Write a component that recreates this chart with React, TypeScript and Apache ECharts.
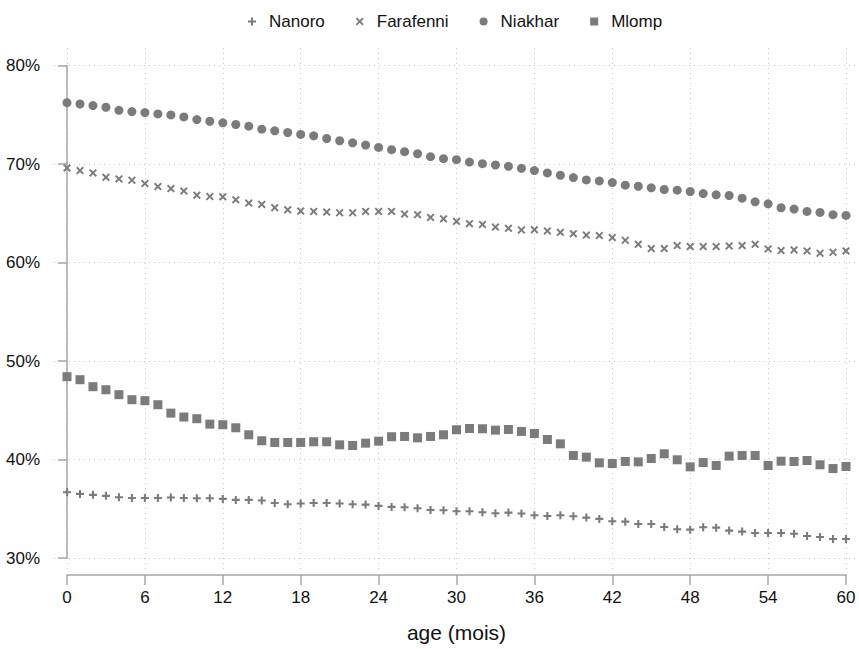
import React, { useEffect, useRef } from "react";
import * as echarts from "echarts";

const months = [0, 1, 2, 3, 4, 5, 6, 7, 8, 9, 10, 11, 12, 13, 14, 15, 16, 17, 18, 19, 20, 21, 22, 23, 24, 25, 26, 27, 28, 29, 30, 31, 32, 33, 34, 35, 36, 37, 38, 39, 40, 41, 42, 43, 44, 45, 46, 47, 48, 49, 50, 51, 52, 53, 54, 55, 56, 57, 58, 59, 60];

const nanoro = [36.68, 36.51, 36.41, 36.31, 36.17, 36.10, 36.10, 36.10, 36.14, 36.10, 36.07, 36.07, 36.00, 35.90, 35.90, 35.83, 35.59, 35.46, 35.53, 35.59, 35.59, 35.53, 35.46, 35.42, 35.29, 35.19, 35.15, 35.05, 34.88,
  34.85, 34.75, 34.75, 34.64, 34.54, 34.61, 34.51, 34.34, 34.27, 34.34, 34.24, 34.10, 33.97, 33.73, 33.69, 33.46, 33.46, 33.15, 32.92, 32.88, 33.12, 33.08, 32.78, 32.68, 32.54, 32.54, 32.54, 32.47, 32.24, 32.14, 31.93, 31.93];

const farafenni = [69.60, 69.33, 69.09, 68.65, 68.48, 68.35, 68.01, 67.71, 67.51, 67.27, 66.84, 66.70, 66.67, 66.36, 66.03, 65.89, 65.56, 65.35, 65.22, 65.19, 65.12, 65.05, 65.05, 65.19, 65.19, 65.19, 64.92, 64.85, 64.58,
  64.44, 64.18, 63.94, 63.87, 63.60, 63.47, 63.30, 63.33, 63.20, 63.06, 62.93, 62.79, 62.73, 62.53, 62.26, 61.85, 61.41, 61.41, 61.72, 61.62, 61.62, 61.62, 61.68, 61.72, 61.85, 61.38, 61.21, 61.28, 61.18, 60.94, 61.04, 61.18];

const niakhar = [76.23, 76.09, 75.93, 75.76, 75.45, 75.32, 75.22, 75.08, 74.98, 74.78, 74.51, 74.34, 74.18, 74.01, 73.84, 73.54, 73.37, 73.20, 73.00, 72.86, 72.59, 72.36, 72.15, 71.92, 71.68, 71.45, 71.25, 71.04, 70.74,
  70.54, 70.44, 70.20, 70.03, 69.90, 69.76, 69.56, 69.33, 69.09, 68.86, 68.62, 68.38, 68.28, 68.11, 67.85, 67.74, 67.58, 67.41, 67.34, 67.21, 67.00, 66.87, 66.80, 66.53, 66.16, 65.96, 65.56, 65.42, 65.19, 65.08, 64.85, 64.78];

const mlomp = [48.41, 48.10, 47.39, 47.08, 46.58, 46.07, 45.97, 45.56, 44.71, 44.31, 44.14, 43.59, 43.53, 43.22, 42.51, 41.90, 41.73, 41.73, 41.73, 41.80, 41.80, 41.49, 41.42, 41.66, 41.86, 42.31, 42.34, 42.20, 42.34,
  42.51, 43.02, 43.15, 43.12, 42.98, 43.05, 42.85, 42.64, 42.03, 41.59, 40.41, 40.24, 39.66, 39.59, 39.80, 39.76, 40.10, 40.58, 39.97, 39.25, 39.69, 39.39, 40.34, 40.41, 40.41, 39.39, 39.83, 39.80, 39.90, 39.46, 39.08, 39.29];

const seriesNames = ["Nanoro", "Farafenni", "Niakhar", "Mlomp"];
const xTicks = [0, 6, 12, 18, 24, 30, 36, 42, 48, 54, 60];
const yTicks = [30, 40, 50, 60, 70, 80];
const xTitle = "age (mois)";

const PLUS = "path://M3.7,0H6.3V3.7H10V6.3H6.3V10H3.7V6.3H0V3.7H3.7Z";
const CROSS = "path://M1.7,0L5,3.3L8.3,0L10,1.7L6.7,5L10,8.3L8.3,10L5,6.7L1.7,10L0,8.3L3.3,5L0,1.7Z";
const SQUARE = "path://M0,0H10V10H0Z";
const DOT = "path://M10,5A5,5,0,1,1,0,5A5,5,0,1,1,10,5Z";

const FONT = "'Liberation Sans', Arial, Helvetica, sans-serif";
const MARK = "#7b7b7b";
const AXIS = "#a6a6a6";
const GRID = "#c8c8c8";

export default function App() {
  const ref = useRef<HTMLDivElement>(null);
  useEffect(() => {
    if (!ref.current) return;
    const chart = echarts.init(ref.current, undefined, { renderer: "svg" });
    const pairs = (ys: number[]) => months.map((m, i) => [m, ys[i]]);
    const symbols = [PLUS, CROSS, "circle", "rect"];
    const legendIcons = [PLUS, CROSS, DOT, SQUARE];
    const sizes = [8, 8, 9, 9];
    const datas = [nanoro, farafenni, niakhar, mlomp];
    chart.setOption({
      animation: false,
      backgroundColor: "#ffffff",
      textStyle: { fontFamily: FONT },
      legend: {
        left: 243,
        top: 8,
        itemWidth: 24,
        itemHeight: 8,
        itemGap: 31,
        data: seriesNames.map((n, i) => ({ name: n, icon: legendIcons[i] })),
        textStyle: { fontFamily: FONT, fontSize: 17, color: "#111" },
      },
      grid: [
        { left: 54, right: 0, top: 48, bottom: 77 },
        { left: 67, right: 13, top: 65.5, bottom: 91 },
      ],
      xAxis: [
        {
          gridIndex: 0,
          type: "value",
          min: -1,
          max: 61,
          axisLine: { show: false },
          axisTick: { show: false, customValues: xTicks },
          axisLabel: { show: false, customValues: xTicks },
          splitLine: { show: true, lineStyle: { color: GRID, type: [1, 4], width: 1 } },
        },
        {
          gridIndex: 1,
          type: "value",
          min: 0,
          max: 60,
          interval: 6,
          offset: 17,
          axisLine: { show: true, lineStyle: { color: AXIS, width: 1.5 } },
          axisTick: { show: true, length: 10, lineStyle: { color: AXIS, width: 1.5 } },
          axisLabel: { show: true, margin: 14, fontSize: 17, color: "#111", fontFamily: FONT },
          splitLine: { show: false },
          name: xTitle,
          nameLocation: "middle",
          nameGap: 47,
          nameTextStyle: { fontSize: 21, color: "#111", fontFamily: FONT },
        },
      ],
      yAxis: [
        {
          gridIndex: 0,
          type: "value",
          min: 28.58,
          max: 81.78,
          axisLine: { show: false },
          axisTick: { show: false, customValues: yTicks },
          axisLabel: { show: false, customValues: yTicks },
          splitLine: { show: true, lineStyle: { color: GRID, type: [1, 4], width: 1 } },
        },
        {
          gridIndex: 1,
          type: "value",
          min: 30,
          max: 80,
          interval: 10,
          offset: 14,
          axisLine: { show: true, lineStyle: { color: AXIS, width: 1.5 } },
          axisTick: { show: true, length: 9, lineStyle: { color: AXIS, width: 1.5 } },
          axisLabel: { show: true, margin: 13, fontSize: 17, color: "#111", fontFamily: FONT, formatter: "{value}%" },
          splitLine: { show: false },
        },
      ],
      series: seriesNames.map((n, i) => ({
        name: n,
        type: "scatter",
        xAxisIndex: 1,
        yAxisIndex: 1,
        symbol: symbols[i],
        symbolSize: sizes[i],
        itemStyle: { color: MARK, opacity: 1 },
        data: pairs(datas[i]),
        clip: false,
      })),
    });
    return () => chart.dispose();
  }, []);
  return (
    <div
      ref={ref}
      style={{ position: "absolute", left: 0, top: 0, width: 859, height: 649, background: "#fff" }}
    />
  );
}
